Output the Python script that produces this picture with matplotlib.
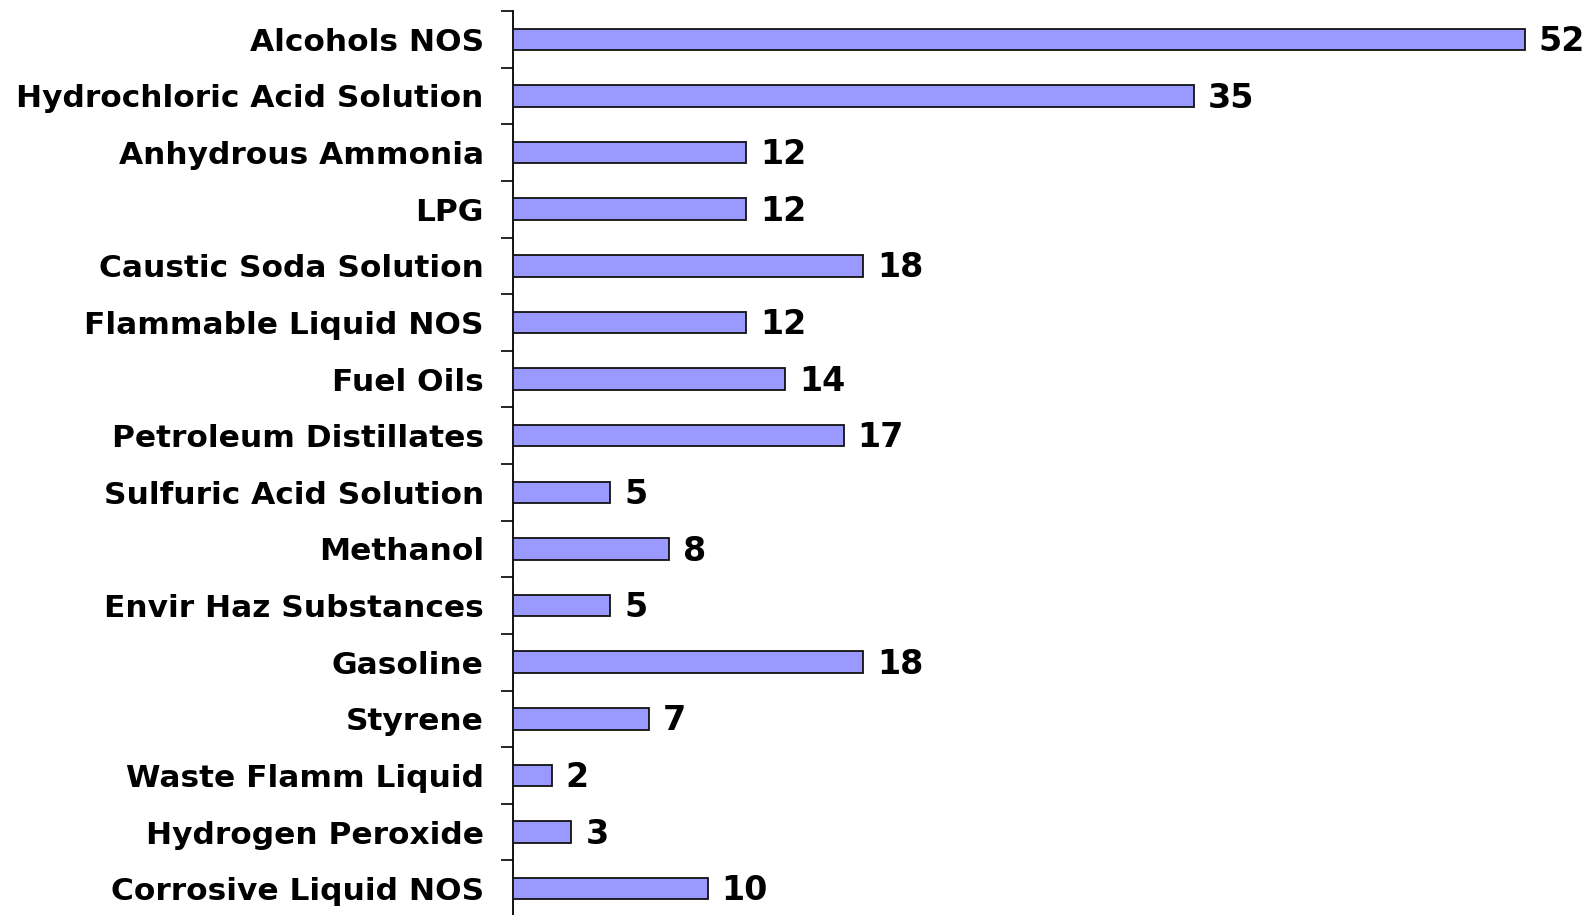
import matplotlib
matplotlib.use("Agg")
import matplotlib.pyplot as plt
import numpy as np

# categories top to bottom, as in the chart
categories = [
    "Alcohols NOS", "Hydrochloric Acid Solution", "Anhydrous Ammonia", "LPG",
    "Caustic Soda Solution", "Flammable Liquid NOS", "Fuel Oils",
    "Petroleum Distillates", "Sulfuric Acid Solution", "Methanol",
    "Envir Haz Substances", "Gasoline", "Styrene", "Waste Flamm Liquid",
    "Hydrogen Peroxide", "Corrosive Liquid NOS",
]
counts = [52, 35, 12, 12, 18, 12, 14, 17, 5, 8, 5, 18, 7, 2, 3, 10]

plt.rcParams["font.family"] = "DejaVu Sans"

fig = plt.figure(figsize=(15.9, 9.15), dpi=100)
ax = fig.add_axes([513 / 1590, -2 / 915, 1070 / 1590, 906 / 915])

ypos = np.arange(len(categories))
ax.barh(ypos, counts, height=0.38, color="#9999ff", edgecolor="#111111",
        linewidth=1.3, zorder=3)

for y, v in zip(ypos, counts):
    ax.annotate(str(v), xy=(v, y), xytext=(10, -1.5), textcoords="offset points",
                va="center", ha="left", fontsize=24,
                fontweight="bold", color="black")

ax.set_xlim(0, 55)
ax.set_ylim(len(categories) - 0.5, -0.5)

ax.set_yticks(ypos)
ax.set_yticklabels(categories, fontsize=22.5, fontweight="bold", color="black")
ax.tick_params(axis="y", which="major", length=0, pad=21)
ax.set_yticks(np.arange(len(categories) + 1) - 0.5, minor=True)
ax.tick_params(axis="y", which="minor", length=8.5, width=1.2, color="black",
               direction="out")
ax.set_xticks([])

for s in ("top", "right", "bottom"):
    ax.spines[s].set_visible(False)
ax.spines["left"].set_color("black")
ax.spines["left"].set_linewidth(1.3)

fig.savefig("out.png", dpi=100, facecolor="white")
